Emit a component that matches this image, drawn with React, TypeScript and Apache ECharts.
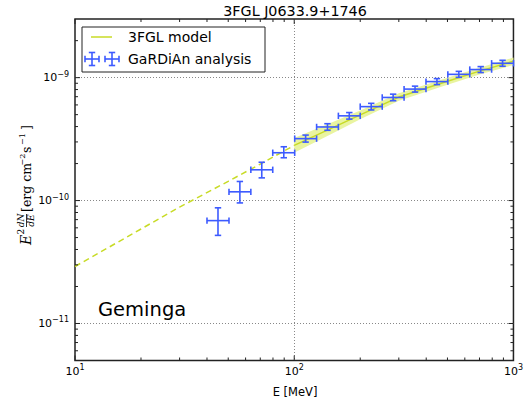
import React, { useEffect, useRef } from 'react';
import * as echarts from 'echarts';

// GaRDiAn analysis: energy bins (MeV) and E^2 dN/dE (erg cm^-2 s^-1)
const energyCenter = [44.9, 56.5, 71.1, 89.6, 112.7, 141.8, 178.3, 224.5, 282.6, 355.7, 447.7, 563.4, 709.0, 892.0];
const energyLow = [40.0, 50.4, 63.4, 79.8, 100.5, 126.5, 159.0, 200.0, 252.0, 317.0, 399.0, 502.0, 632.0, 795.0];
const energyHigh = [50.4, 63.4, 79.8, 100.5, 126.5, 159.0, 200.0, 252.0, 317.0, 399.0, 502.0, 632.0, 795.0, 1000.0];
const fluxValue = [6.87e-11, 1.178e-10, 1.78e-10, 2.45e-10, 3.19e-10, 3.97e-10, 4.89e-10, 5.81e-10, 6.9e-10, 8.07e-10, 9.29e-10, 1.064e-9, 1.164e-9, 1.309e-9];
const fluxLow = [5.21e-11, 9.57e-11, 1.53e-10, 2.23e-10, 2.99e-10, 3.73e-10, 4.6e-10, 5.46e-10, 6.49e-10, 7.63e-10, 8.78e-10, 1.006e-9, 1.1e-9, 1.238e-9];
const fluxHigh = [8.73e-11, 1.43e-10, 2.05e-10, 2.74e-10, 3.41e-10, 4.22e-10, 5.2e-10, 6.18e-10, 7.34e-10, 8.53e-10, 9.82e-10, 1.125e-9, 1.23e-9, 1.384e-9];

// 3FGL model: extrapolation (dashed) and fitted range (solid + band)
const modelExtrapE = [10, 20, 30, 50, 70, 100];
const modelExtrapF = [2.91e-11, 5.87e-11, 8.85e-11, 1.435e-10, 1.98e-10, 2.81e-10];
const modelE = [100, 150, 200, 300, 500, 700, 1000];
const modelF = [2.81e-10, 3.92e-10, 4.98e-10, 6.95e-10, 9.35e-10, 1.13e-9, 1.36e-9];
const modelBandLow = [2.45e-10, 3.53e-10, 4.59e-10, 6.48e-10, 8.76e-10, 1.059e-9, 1.269e-9];
const modelBandHigh = [3.23e-10, 4.35e-10, 5.4e-10, 7.45e-10, 9.98e-10, 1.206e-9, 1.458e-9];

// Axis ranges and ticks
const X_MIN = 10;
const X_MAX = 1000;
const Y_MIN = 5e-12;
const Y_MAX = 3e-9;
const xMajorTicks = [10, 100, 1000];
const xMinorTicks = [20, 30, 40, 50, 60, 70, 80, 90, 200, 300, 400, 500, 600, 700, 800, 900];
const yMajorTicks = [1e-11, 1e-10, 1e-9];
const yMinorTicks = [6e-12, 7e-12, 8e-12, 9e-12, 2e-11, 3e-11, 4e-11, 5e-11, 6e-11, 7e-11, 8e-11, 9e-11,
  2e-10, 3e-10, 4e-10, 5e-10, 6e-10, 7e-10, 8e-10, 9e-10, 2e-9];

const TITLE = '3FGL J0633.9+1746';
const LEGEND_MODEL = '3FGL model';
const LEGEND_DATA = 'GaRDiAn analysis';
const SOURCE_NAME = 'Geminga';
const X_NAME = 'E [MeV]';

const LINE_COLOR = '#c8db26';
const BAND_COLOR = '#e9f4a0';
const BLUE = '#3d5bff';
const FRAME = '#222';
const SANS = 'DejaVu Sans';
const SERIF = 'DejaVu Serif';

function powLabel(v: number): string {
  const e = Math.log10(v);
  const r = Math.round(e);
  if (Math.abs(e - r) > 1e-6) return '';
  const s = r < 0 ? '\u2212' + Math.abs(r) : String(r);
  return `{b|10}{s|${s}}`;
}

function txt(text: string, x: number, baseline: number, size: number, opts: any = {}) {
  const align = opts.align || 'left';
  return {
    type: 'text',
    x,
    y: baseline - 0.346 * size,
    silent: true,
    style: {
      text,
      fontSize: size,
      fontFamily: opts.family || SANS,
      fontStyle: opts.italic ? 'italic' : 'normal',
      fill: opts.color || '#000',
      align,
      textAlign: align,
      verticalAlign: 'middle',
      textVerticalAlign: 'middle',
    },
  };
}

function errCross(cx: number, cy: number) {
  const st = { stroke: BLUE, lineWidth: 1.6 };
  const hw = 7;
  const hh = 6.5;
  const cap = 3.2;
  return [
    { type: 'line', shape: { x1: cx - hw, y1: cy, x2: cx + hw, y2: cy }, style: st },
    { type: 'line', shape: { x1: cx, y1: cy - hh, x2: cx, y2: cy + hh }, style: st },
    { type: 'line', shape: { x1: cx - hw, y1: cy - cap, x2: cx - hw, y2: cy + cap }, style: st },
    { type: 'line', shape: { x1: cx + hw, y1: cy - cap, x2: cx + hw, y2: cy + cap }, style: st },
    { type: 'line', shape: { x1: cx - cap, y1: cy - hh, x2: cx + cap, y2: cy - hh }, style: st },
    { type: 'line', shape: { x1: cx - cap, y1: cy + hh, x2: cx + cap, y2: cy + hh }, style: st },
  ];
}

export default function App() {
  const ref = useRef<HTMLDivElement>(null);

  useEffect(() => {
    if (!ref.current) return;
    const chart = echarts.init(ref.current, null, { renderer: 'svg' });

    const errData = energyCenter.map((e, i) => [e, fluxValue[i], energyLow[i], energyHigh[i], fluxLow[i], fluxHigh[i]]);
    const xTickData = [
      ...xMajorTicks.map((v) => [v, Y_MIN, 1]),
      ...xMinorTicks.map((v) => [v, Y_MIN, 0]),
    ];
    const yTickData = [
      ...yMajorTicks.map((v) => [X_MIN, v, 1]),
      ...yMinorTicks.map((v) => [X_MIN, v, 0]),
    ];
    const tickStyle = { stroke: FRAME, lineWidth: 1 };

    const axisLabelRich = {
      b: { fontSize: 11, fontFamily: SANS, color: '#000', lineHeight: 15 },
      s: { fontSize: 8, fontFamily: SANS, color: '#000', lineHeight: 8, verticalAlign: 'top' },
    };

    const option: any = {
      animation: false,
      grid: {
        left: 75,
        top: 19,
        width: 440.5,
        height: 341.5,
        show: true,
        borderColor: FRAME,
        borderWidth: 1.5,
        backgroundColor: 'transparent',
        containLabel: false,
      },
      xAxis: {
        type: 'log',
        logBase: 10,
        min: X_MIN,
        max: X_MAX,
        axisLine: { show: false },
        axisTick: { show: false },
        splitLine: { show: true, showMinLine: false, showMaxLine: false, lineStyle: { color: '#888', type: [1, 2], width: 1 } },
        axisLabel: { margin: 3, formatter: powLabel, rich: axisLabelRich },
      },
      yAxis: {
        type: 'log',
        logBase: 10,
        min: Y_MIN,
        max: Y_MAX,
        axisLine: { show: false },
        axisTick: { show: false },
        splitLine: { show: true, showMinLine: false, showMaxLine: false, lineStyle: { color: '#888', type: [1, 2], width: 1 } },
        axisLabel: { margin: 6, showMinLabel: false, showMaxLabel: false, formatter: powLabel, rich: axisLabelRich },
      },
      series: [
        {
          type: 'custom',
          name: 'band',
          z: 1,
          silent: true,
          data: [[modelE[0], modelF[0]]],
          renderItem: (params: any, api: any) => {
            const pts: number[][] = [];
            for (let i = 0; i < modelE.length; i++) pts.push(api.coord([modelE[i], modelBandHigh[i]]));
            for (let i = modelE.length - 1; i >= 0; i--) pts.push(api.coord([modelE[i], modelBandLow[i]]));
            return { type: 'polygon', shape: { points: pts }, style: { fill: BAND_COLOR, stroke: 'none' } };
          },
        },
        {
          type: 'line',
          name: 'extrap',
          z: 2,
          symbol: 'none',
          silent: true,
          data: modelExtrapE.map((e, i) => [e, modelExtrapF[i]]),
          lineStyle: { color: LINE_COLOR, width: 1.5, type: [6, 4] },
        },
        {
          type: 'line',
          name: LEGEND_MODEL,
          z: 2,
          symbol: 'none',
          silent: true,
          data: modelE.map((e, i) => [e, modelF[i]]),
          lineStyle: { color: LINE_COLOR, width: 1.5 },
        },
        {
          type: 'custom',
          name: LEGEND_DATA,
          z: 3,
          silent: true,
          clip: false,
          data: errData,
          encode: { x: 0, y: 1 },
          renderItem: (params: any, api: any) => {
            const c = api.coord([api.value(0), api.value(1)]);
            const xl = api.coord([api.value(2), api.value(1)]);
            const xh = api.coord([api.value(3), api.value(1)]);
            const yl = api.coord([api.value(0), api.value(4)]);
            const yh = api.coord([api.value(0), api.value(5)]);
            const cap = 3.2;
            const st = { stroke: BLUE, lineWidth: 1.6 };
            return {
              type: 'group',
              children: [
                { type: 'line', shape: { x1: xl[0], y1: c[1], x2: xh[0], y2: c[1] }, style: st },
                { type: 'line', shape: { x1: c[0], y1: yl[1], x2: c[0], y2: yh[1] }, style: st },
                { type: 'line', shape: { x1: xl[0], y1: c[1] - cap, x2: xl[0], y2: c[1] + cap }, style: st },
                { type: 'line', shape: { x1: xh[0], y1: c[1] - cap, x2: xh[0], y2: c[1] + cap }, style: st },
                { type: 'line', shape: { x1: c[0] - cap, y1: yl[1], x2: c[0] + cap, y2: yl[1] }, style: st },
                { type: 'line', shape: { x1: c[0] - cap, y1: yh[1], x2: c[0] + cap, y2: yh[1] }, style: st },
              ],
            };
          },
        },
        {
          type: 'custom',
          name: 'xticks',
          z: 4,
          silent: true,
          clip: false,
          data: xTickData,
          encode: { x: 0, y: 1 },
          renderItem: (params: any, api: any) => {
            const p = api.coord([api.value(0), api.value(1)]);
            const cs = params.coordSys;
            const len = api.value(2) ? 5 : 3;
            const b = cs.y + cs.height;
            return {
              type: 'group',
              children: [
                { type: 'line', shape: { x1: p[0], y1: b, x2: p[0], y2: b - len }, style: tickStyle },
                { type: 'line', shape: { x1: p[0], y1: cs.y, x2: p[0], y2: cs.y + len }, style: tickStyle },
              ],
            };
          },
        },
        {
          type: 'custom',
          name: 'yticks',
          z: 4,
          silent: true,
          clip: false,
          data: yTickData,
          encode: { x: 0, y: 1 },
          renderItem: (params: any, api: any) => {
            const p = api.coord([api.value(0), api.value(1)]);
            const cs = params.coordSys;
            const len = api.value(2) ? 5 : 3;
            const r = cs.x + cs.width;
            return {
              type: 'group',
              children: [
                { type: 'line', shape: { x1: cs.x, y1: p[1], x2: cs.x + len, y2: p[1] }, style: tickStyle },
                { type: 'line', shape: { x1: r, y1: p[1], x2: r - len, y2: p[1] }, style: tickStyle },
              ],
            };
          },
        },
      ],
      graphic: [
        txt(TITLE, 295, 15.5, 14.3, { align: 'center' }),
        txt(X_NAME, 295, 396, 11.5, { align: 'center' }),
        txt(SOURCE_NAME, 98, 316, 19.5),
        {
          type: 'group',
          x: 31,
          y: 245,
          rotation: Math.PI / 2,
          silent: true,
          children: [
            txt('E', 0, 0, 14, { family: SERIF, italic: true }),
            txt('2', 10.5, -6.5, 9, { family: SERIF }),
            txt('dN', 24.5, -7, 9, { family: SERIF, italic: true, align: 'center' }),
            { type: 'line', shape: { x1: 18, y1: -4.5, x2: 31, y2: -4.5 }, style: { stroke: '#000', lineWidth: 0.8 } },
            txt('dE', 24.5, 3, 9, { family: SERIF, italic: true, align: 'center' }),
            txt('[erg cm', 33, 0, 12.5, { family: SERIF }),
            txt('\u22122', 79.5, -6, 8, { family: SERIF }),
            txt('s', 92, 0, 12.5, { family: SERIF }),
            txt('\u22121', 100, -6, 8, { family: SERIF }),
            txt(']', 115, 0, 12.5, { family: SERIF }),
          ],
        },
        {
          type: 'group',
          silent: true,
          children: [
            { type: 'rect', shape: { x: 82, y: 27, width: 183, height: 45 }, style: { fill: '#fff', stroke: FRAME, lineWidth: 1 }, z: 10 },
            { type: 'line', shape: { x1: 91, y1: 37, x2: 112, y2: 37 }, style: { stroke: LINE_COLOR, lineWidth: 1.5 }, z: 11 },
            ...errCross(92, 59).map((el) => ({ ...el, z: 11 })),
            ...errCross(112, 59).map((el) => ({ ...el, z: 11 })),
            { ...txt(LEGEND_MODEL, 128, 42, 14), z: 11 },
            { ...txt(LEGEND_DATA, 128, 64, 14), z: 11 },
          ],
        },
      ],
    };

    chart.setOption(option);
    return () => chart.dispose();
  }, []);

  return <div ref={ref} style={{ position: 'absolute', left: 0, top: 0, width: 526, height: 405 }} />;
}
